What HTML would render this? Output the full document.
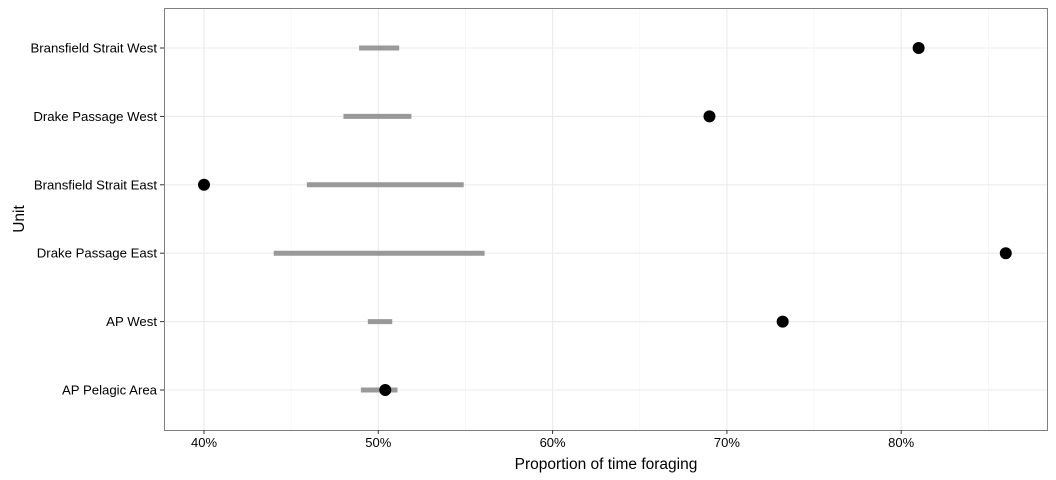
<!DOCTYPE html>
<html><head><meta charset="utf-8"><style>
body{margin:0;background:#fff;}
svg{display:block;font-family:"Liberation Sans",Arial,sans-serif;}
</style></head><body>
<svg id="chart" width="1056" height="480"></svg>
<script>
const units = ["Bransfield Strait West","Drake Passage West","Bransfield Strait East","Drake Passage East","AP West","AP Pelagic Area"];
const observed = [81.0, 69.0, 40.0, 86.0, 73.2, 50.4];
const rangeLow = [48.9, 48.0, 45.9, 44.0, 49.4, 49.0];
const rangeHigh = [51.2, 51.9, 54.9, 56.1, 50.8, 51.1];
const xTicks = [40, 50, 60, 70, 80];
const xTickLabels = ["40%","50%","60%","70%","80%"];

const NS = "http://www.w3.org/2000/svg";
const svg = document.getElementById("chart");
const L = 164, R = 1048, T = 8, B = 430;
const x = v => 204 + (v - 40) * 17.43;
const y = i => 48 + i * 68.4;
function mk(tag, attrs, parent) {
  const e = document.createElementNS(NS, tag);
  for (const k in attrs) e.setAttribute(k, attrs[k]);
  (parent || svg).appendChild(e);
  return e;
}
const grid = mk("g", {});


for (let i = 0; i < xTicks.length; i++) {
  const m = xTicks[i] + 5;
  if (x(m) < R) mk("line", {x1: x(m), x2: x(m), y1: T, y2: B, stroke: "#f2f2f2", "stroke-width": 0.6}, grid);
}
const mMin = x(xTicks[0] - 5);
if (mMin > L) mk("line", {x1: mMin, x2: mMin, y1: T, y2: B, stroke: "#f2f2f2", "stroke-width": 0.6}, grid);
for (let i = 0; i < xTicks.length; i++) {
  mk("line", {x1: x(xTicks[i]), x2: x(xTicks[i]), y1: T, y2: B, stroke: "#ebebeb", "stroke-width": 1.1}, grid);
}
for (let i = 0; i < units.length; i++) {
  mk("line", {x1: L, x2: R, y1: y(i), y2: y(i), stroke: "#ebebeb", "stroke-width": 1.1}, grid);
}
for (let i = 0; i < units.length; i++) {
  const s = mk("line", {x1: x(rangeLow[i]), x2: x(rangeHigh[i]), y1: y(i), y2: y(i), stroke: "#999999", "stroke-width": 5});
  
  
}
for (let i = 0; i < units.length; i++) {
  const c = mk("circle", {cx: x(observed[i]), cy: y(i), r: 6, fill: "#000"});
  
  
}
const border = mk("rect", {x: L + 0.5, y: T + 0.5, width: R - L - 1, height: B - T, fill: "none", stroke: "#7f7f7f", "stroke-width": 1});


for (let i = 0; i < units.length; i++) {
  mk("line", {x1: L - 4, x2: L, y1: y(i), y2: y(i), stroke: "#333"});
  const t = mk("text", {x: L - 7, y: y(i) + 4.5, "text-anchor": "end", "font-size": 13.2, fill: "#000"});
  t.textContent = units[i];
  
  
}
for (let i = 0; i < xTicks.length; i++) {
  mk("line", {x1: x(xTicks[i]), x2: x(xTicks[i]), y1: B, y2: B + 4, stroke: "#333"});
  const t = mk("text", {x: x(xTicks[i]), y: B + 17, "text-anchor": "middle", "font-size": 13, fill: "#000"});
  t.textContent = xTickLabels[i];
  
  
}
const xt = mk("text", {x: (L + R) / 2, y: 469, "text-anchor": "middle", "font-size": 15.5, fill: "#000"});
xt.textContent = "Proportion of time foraging";


const yt = mk("text", {x: 24, y: (T + B) / 2, "text-anchor": "middle", "font-size": 15.5, fill: "#000", transform: "rotate(-90 24 " + (T + B) / 2 + ")"});
yt.textContent = "Unit";


</script>
</body></html>
